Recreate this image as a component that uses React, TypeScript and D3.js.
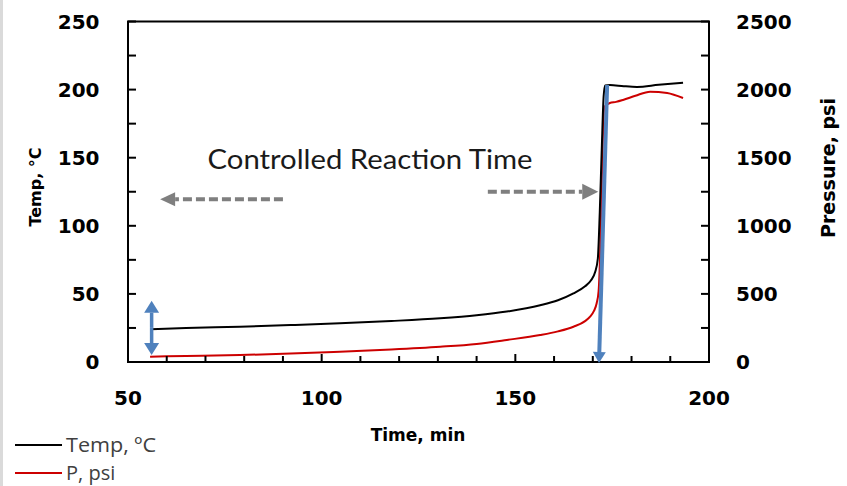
import React from "react";
import * as d3 from "d3";

// Reactor run: temperature (left axis) and pressure (right axis) vs time
const tempTime = [55.7, 65, 78.9, 92, 104.7, 118, 130.6, 140, 147.8, 156.4, 161, 165.0, 168, 169.5, 170.6, 171.3, 171.8, 172.3, 172.8, 173.2, 174.4, 178, 181.4, 187, 193.3];
const tempValues = [24.0, 24.9, 25.9, 27.1, 28.4, 30.1, 32.1, 34.3, 37.0, 41.6, 45.3, 50.3, 55.6, 59.8, 66, 76, 110, 155, 195, 203, 203.4, 202.5, 202, 203.5, 205];

const presTime = [55.7, 65, 78.9, 92, 104.7, 118, 130.6, 140, 147.8, 156.4, 161, 165.0, 168, 169.3, 170.3, 171.0, 171.5, 171.9, 172.3, 172.7, 173.0, 174.4, 176, 177.8, 181, 184.8, 189.2, 193.3];
const presValues = [39, 44, 51, 62, 76, 92, 112, 133, 162, 198, 225, 259, 300, 333, 375, 431, 520, 800, 1300, 1750, 1874, 1902, 1910, 1924, 1955, 1985, 1975, 1938];

const xTickValues = d3.range(50, 201, 10);
const xLabelValues = [50, 100, 150, 200];
const tempTickValues = d3.range(0, 251, 25);
const tempLabelValues = [0, 50, 100, 150, 200, 250];
const presLabelValues = [0, 500, 1000, 1500, 2000, 2500];

// Annotations in data units (time, temperature)
const noteText = { t: 112.5, v: 141.5, label: "Controlled Reaction Time" };
const leftArrow = { from: [90.0, 119.5], to: [58.3, 119.5] };
const rightArrow = { from: [142.9, 125], to: [171.4, 125] };
const offsetArrow = { t: 56.1, top: 45, bottom: 5.1 };
const onsetArrow = { from: [173.7, 203.4], to: [171.6, -0.7] };

const W = 847;
const H = 486;
const left = 128;
const right = 709;
const top = 21.5;
const bottom = 362;

const x = d3.scaleLinear().domain([50, 200]).range([left, right]);
const yT = d3.scaleLinear().domain([0, 250]).range([bottom, top]);
const yP = d3.scaleLinear().domain([0, 2500]).range([bottom, top]);

const tickFont = "'DejaVu Sans', sans-serif";
const blue = "#4f81bd";
const gray = "#7f7f7f";

function arrowHead(x1: number, y1: number, x2: number, y2: number, len: number, width: number) {
  const a = Math.atan2(y2 - y1, x2 - x1);
  const bx = x2 - len * Math.cos(a);
  const by = y2 - len * Math.sin(a);
  const px = Math.sin(a) * (width / 2);
  const py = -Math.cos(a) * (width / 2);
  return {
    base: [bx, by],
    points: `${x2},${y2} ${bx + px},${by + py} ${bx - px},${by - py}`,
  };
}

function Arrow({ x1, y1, x2, y2, color, sw, len, width, dash }: any) {
  const h = arrowHead(x1, y1, x2, y2, len, width);
  return (
    <g>
      <line x1={x1} y1={y1} x2={h.base[0]} y2={h.base[1]} stroke={color} strokeWidth={sw} strokeDasharray={dash} />
      <polygon points={h.points} fill={color} />
    </g>
  );
}

export default function App() {
  const tempLine = d3
    .line<number>()
    .x((_, i) => x(tempTime[i]))
    .y((d) => yT(d))
    .curve(d3.curveMonotoneX)(tempValues) as string;
  const presLine = d3
    .line<number>()
    .x((_, i) => x(presTime[i]))
    .y((d) => yP(d))
    .curve(d3.curveMonotoneX)(presValues) as string;

  const la = [x(leftArrow.from[0]), yT(leftArrow.from[1]), x(leftArrow.to[0]), yT(leftArrow.to[1])];
  const ra = [x(rightArrow.from[0]), yT(rightArrow.from[1]), x(rightArrow.to[0]), yT(rightArrow.to[1])];
  const ox = x(offsetArrow.t);
  const oTop = yT(offsetArrow.top);
  const oBot = yT(offsetArrow.bottom);
  const oMid = (oTop + oBot) / 2;
  const oa = [x(onsetArrow.from[0]), yT(onsetArrow.from[1]), x(onsetArrow.to[0]), yT(onsetArrow.to[1])];

  return (
    <svg width={W} height={H} style={{ position: "absolute", left: 0, top: 0, background: "#fff" }}>
      <rect x={0} y={0} width={3} height={H} fill="#dadada" />

      {/* series */}
      <path d={presLine} fill="none" stroke="#cc0000" strokeWidth={2} />
      <path d={tempLine} fill="none" stroke="#000" strokeWidth={2} />

      {/* plot frame */}
      <rect x={left} y={top} width={right - left} height={bottom - top} fill="none" stroke="#000" strokeWidth={2} />

      {/* x ticks, pointing inward */}
      {xTickValues.map((t) => (
        <line key={"xt" + t} x1={x(t)} x2={x(t)} y1={bottom} y2={bottom - (t % 50 === 0 ? 8 : 6)} stroke="#000" strokeWidth={2} />
      ))}
      {xLabelValues.map((t) => (
        <text key={"xl" + t} x={x(t)} y={bottom + 43} textAnchor="middle" fontFamily={tickFont} fontWeight="bold" fontSize={20} fill="#000">
          {t}
        </text>
      ))}

      {/* left and right ticks */}
      {tempTickValues.map((v) => (
        <g key={"yt" + v}>
          <line x1={left} x2={left + 8} y1={yT(v)} y2={yT(v)} stroke="#000" strokeWidth={2} />
          <line x1={right} x2={right - 8} y1={yT(v)} y2={yT(v)} stroke="#000" strokeWidth={2} />
        </g>
      ))}
      {tempLabelValues.map((v) => (
        <text key={"yl" + v} x={99.5} y={yT(v) + 7} textAnchor="end" fontFamily={tickFont} fontWeight="bold" fontSize={20} fill="#000">
          {v}
        </text>
      ))}
      {presLabelValues.map((v) => (
        <text key={"pl" + v} x={736} y={yP(v) + 7} textAnchor="start" fontFamily={tickFont} fontWeight="bold" fontSize={20} fill="#000">
          {v}
        </text>
      ))}

      {/* axis titles */}
      <text x={418} y={441} textAnchor="middle" fontFamily={tickFont} fontWeight="bold" fontSize={17} fill="#000">
        Time, min
      </text>
      <text transform="translate(41,187) rotate(-90)" textAnchor="middle" fontFamily={tickFont} fontWeight="bold" fontSize={16} fill="#000">
        Temp, °C
      </text>
      <text transform="translate(835,168) rotate(-90)" textAnchor="middle" fontFamily={tickFont} fontWeight="bold" fontSize={19} fill="#000">
        Pressure, psi
      </text>

      {/* annotation */}
      <text x={x(noteText.t)} y={yT(noteText.v)} textAnchor="middle" fontFamily="Lato, sans-serif" fontSize={26} textLength={325} lengthAdjust="spacingAndGlyphs" fill="#1a1a1a">
        {noteText.label}
      </text>
      <Arrow x1={la[0]} y1={la[1]} x2={la[2]} y2={la[3]} color={gray} sw={4} len={15} width={14} dash="9,4" />
      <Arrow x1={ra[0]} y1={ra[1]} x2={ra[2]} y2={ra[3]} color={gray} sw={4} len={16} width={16} dash="9,4" />

      <Arrow x1={ox} y1={oMid} x2={ox} y2={oTop} color={blue} sw={3.5} len={12} width={15} />
      <Arrow x1={ox} y1={oMid} x2={ox} y2={oBot} color={blue} sw={3.5} len={12} width={15} />
      <Arrow x1={oa[0]} y1={oa[1]} x2={oa[2]} y2={oa[3]} color={blue} sw={4} len={11} width={13} />

      {/* legend */}
      <line x1={15} x2={62} y1={445} y2={445} stroke="#000" strokeWidth={2} />
      <text x={66} y={451.5} fontFamily="'Open Sans', sans-serif" fontSize={20} fill="#404040" textLength={90} lengthAdjust="spacingAndGlyphs">
        Temp, ºC
      </text>
      <line x1={15} x2={62} y1={473} y2={473} stroke="#cc0000" strokeWidth={2} />
      <text x={66} y={480} fontFamily="'Open Sans', sans-serif" fontSize={20} fill="#404040">
        P, psi
      </text>
    </svg>
  );
}
